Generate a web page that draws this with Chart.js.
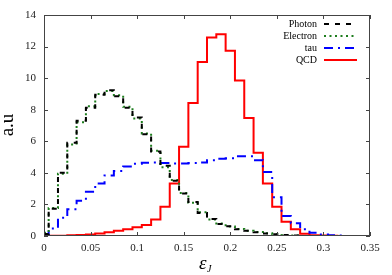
<!DOCTYPE html>
<html><head><meta charset="utf-8">
<script src="https://cdn.jsdelivr.net/npm/chart.js@4.4.1/dist/chart.umd.min.js"></script>
<style>html,body{margin:0;padding:0;background:#fff}#w{width:392px;height:275px;position:relative}</style>
</head><body><div id="w"><canvas id="c"></canvas></div>
<script>
// bin centres (bin width 0.01)
const binCenters = [0.00,0.01,0.02,0.03,0.04,0.05,0.06,0.07,0.08,0.09,0.10,0.11,0.12,0.13,0.14,0.15,0.16,0.17,0.18,0.19,0.20,0.21,0.22,0.23,0.24,0.25,0.26,0.27,0.28,0.29,0.30,0.31,0.32];
const photon   = [0.12,1.72,4.0,5.9,7.3,8.12,8.95,9.23,8.85,8.12,7.5,6.45,5.35,4.45,3.5,2.7,2.15,1.45,1.08,0.76,0.62,0.43,0.33,0.24,0.16,0.11,0.07,0.03];
const electron = [0.2,1.77,3.95,5.8,7.2,8.22,9.0,9.18,8.92,8.18,7.44,6.5,5.4,4.35,3.55,2.72,2.1,1.5,1.05,0.79,0.6,0.45,0.34,0.26,0.17,0.12,0.06,0.03];
const tau      = [0.08,0.47,1.15,1.7,2.23,2.8,3.33,3.84,4.12,4.4,4.58,4.64,4.65,4.62,4.6,4.6,4.62,4.66,4.8,4.9,4.92,5.05,5.05,4.8,4.05,2.45,1.26,0.8,0.42,0.21,0.1,0.05,0.03];
const qcd      = [0.01,0.01,0.02,0.04,0.06,0.1,0.16,0.23,0.34,0.42,0.55,0.7,1.05,1.85,3.33,5.65,8.43,11.03,12.57,12.78,11.74,9.85,7.48,5.27,3.33,1.85,0.9,0.42,0.15,0.05,0.03,0.02];
const seriesNames = ['Photon','Electron','tau','QCD'];
const xTicks = [0,0.05,0.1,0.15,0.2,0.25,0.3,0.35];
const yTicks = [0,2,4,6,8,10,12,14];
const xTitle = 'ε';
const xTitleSub = 'J';
const yTitle = 'a.u';

const binWidth = binCenters[1]-binCenters[0];
function histPoints(vals){
  const pts=[];
  for(let i=0;i<vals.length;i++){
    pts.push({x:Math.max(0,binCenters[i]-binWidth/2), y:vals[i]});
  }
  pts.push({x:binCenters[vals.length-1]+binWidth/2, y:vals[vals.length-1]});
  pts.push({x:binCenters[vals.length-1]+binWidth/2, y:0});
  return pts;
}
const styles = [
  {color:'#000000', dash:[5,6], width:2},
  {color:'#1d7d1d', dash:[2,3.5], width:2},
  {color:'#0000ff', dash:[9,5,2,5], width:2},
  {color:'#ff0000', dash:[], width:2}
];
const allVals=[photon,electron,tau,qcd];
const datasets = allVals.map((v,i)=>({
  label:seriesNames[i], data:histPoints(v), stepped:'before',
  borderColor:styles[i].color, borderDash:styles[i].dash, borderWidth:styles[i].width,
  pointRadius:0, fill:false, tension:0
}));

const frame = {
  id:'frame',
  afterDraw(chart){
    const {ctx, chartArea:a, scales:{x,y}} = chart;
    ctx.save();
    ctx.strokeStyle='#444'; ctx.lineWidth=1;
    ctx.strokeRect(a.left+0.5,a.top+0.5,a.right-a.left-1,a.bottom-a.top-1);
    ctx.beginPath();
    const L=4;
    xTicks.forEach(t=>{const p=Math.round(x.getPixelForValue(t))+0.5;
      ctx.moveTo(p,a.bottom);ctx.lineTo(p,a.bottom-L);ctx.moveTo(p,a.top);ctx.lineTo(p,a.top+L);});
    yTicks.forEach(t=>{const p=Math.round(y.getPixelForValue(t))+0.5;
      ctx.moveTo(a.left,p);ctx.lineTo(a.left+L,p);ctx.moveTo(a.right,p);ctx.lineTo(a.right-L,p);});
    ctx.stroke();
    // axis titles
    ctx.fillStyle='#000';
    ctx.font='italic 19px "Liberation Serif"';
    ctx.textAlign='left'; ctx.textBaseline='alphabetic';
    ctx.fillText(xTitle,199,269);
    const w=ctx.measureText(xTitle).width;
    ctx.font='italic 10px "Liberation Serif"';
    ctx.fillText(xTitleSub,199+w+0.5,272);
    ctx.translate(13,125); ctx.rotate(-Math.PI/2);
    ctx.font='19px "Liberation Serif"'; ctx.textAlign='center';
    ctx.fillText(yTitle,0,0);
    ctx.restore();
    // legend
    ctx.save();
    ctx.font='10px "Liberation Serif"'; ctx.textAlign='right'; ctx.textBaseline='middle';
    chart.data.datasets.forEach((ds,i)=>{
      const yy=24+i*12;
      ctx.fillStyle='#000'; ctx.fillText(ds.label,317,yy);
      ctx.strokeStyle=ds.borderColor; ctx.lineWidth=ds.borderWidth; ctx.setLineDash(ds.borderDash);
      ctx.beginPath(); ctx.moveTo(324,yy); ctx.lineTo(357,yy); ctx.stroke();
    });
    ctx.restore();
  }
};

new Chart(document.getElementById('c'),{
  type:'line',
  data:{datasets},
  options:{
    responsive:true, maintainAspectRatio:false, animation:false,
    layout:{padding:{left:0,right:22,top:15,bottom:0}},
    plugins:{legend:{display:false},tooltip:{enabled:false}},
    scales:{
      x:{type:'linear',min:0,max:0.35,
        afterBuildTicks(s){s.ticks=xTicks.map(v=>({value:v}));},
        afterFit(s){s.height=39;},
        grid:{display:false,drawTicks:false}, border:{display:false},
        ticks:{padding:6,color:'#222',font:{family:'"Liberation Serif"',size:11},maxRotation:0,autoSkip:false,
          callback:v=>String(v)}},
      y:{type:'linear',min:0,max:14,
        afterBuildTicks(s){s.ticks=yTicks.map(v=>({value:v}));},
        afterFit(s){s.width=44;},
        grid:{display:false,drawTicks:false}, border:{display:false},
        ticks:{padding:8,color:'#222',font:{family:'"Liberation Serif"',size:11},autoSkip:false}}
    }
  },
  plugins:[frame]
});
</script></body></html>
